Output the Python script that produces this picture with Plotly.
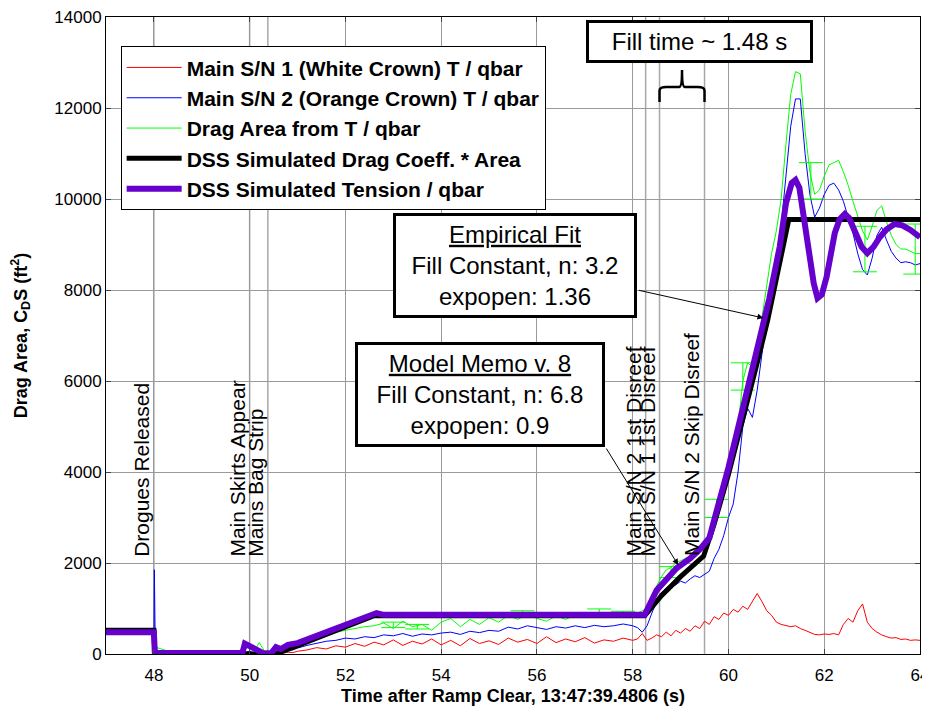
import plotly.graph_objects as go

# measured time base (s)
t_meas = [48.0, 48.01, 48.03, 48.5, 49.0, 49.5, 49.8, 49.9, 50.0, 50.1, 50.2, 50.3, 50.4, 50.5, 50.6, 50.7, 50.8, 50.9, 51.0,
          51.2, 51.4, 51.6, 51.8, 52.0, 52.2, 52.4, 52.6, 52.8, 53.0, 53.2, 53.4, 53.6, 53.8, 54.0, 54.2, 54.4, 54.6,
          54.8, 55.0, 55.2, 55.4, 55.6, 55.8, 56.0, 56.2, 56.4, 56.6, 56.8, 57.0, 57.2, 57.4, 57.6, 57.8, 58.0,
          58.1, 58.2, 58.3, 58.4, 58.5, 58.6, 58.7, 58.8, 58.9, 59.0, 59.1, 59.2, 59.3, 59.4, 59.5, 59.6, 59.7, 59.8,
          59.9, 60.0, 60.1, 60.2, 60.3, 60.4, 60.5, 60.6, 60.7, 60.8, 60.9, 61.0, 61.1, 61.2, 61.3, 61.4, 61.5, 61.6,
          61.7, 61.8, 61.9, 62.0, 62.1, 62.2, 62.3, 62.4, 62.5, 62.6, 62.7, 62.8, 62.9, 63.0, 63.1, 63.2, 63.3, 63.4,
          63.5, 63.6, 63.7, 63.8, 63.9, 64.0]

main1 = [0, 0, 0, 0, 0, 0, 0, 30, 20, 10, 30, 0, 0, 20, 0, 20, 40, 30, 60,
         90, 140, 110, 180, 150, 230, 170, 260, 200, 310, 190, 280, 220, 330, 200, 300, 180, 340,
         230, 290, 210, 350, 260, 320, 230, 380, 250, 330, 270, 360, 240, 310, 280, 350, 300,
         330, 450, 300, 350, 420, 380, 480, 400, 520, 460, 560, 500, 620, 560, 720, 650, 820, 760,
         900, 850, 980, 920, 1050, 980, 1150, 1330, 1150, 950, 850, 700, 650, 620, 600, 620, 560, 520,
         480, 430, 420, 440, 430, 450, 420, 650, 780, 700, 950, 1100, 700, 560, 480, 420, 380, 350,
         360, 320, 330, 300, 310, 300]

main2 = [0, 1850, 40, 0, 0, 0, 0, 40, 60, 20, 80, 30, 10, 40, 20, 60, 100, 90, 130,
         190, 240, 280, 300, 350, 330, 380, 360, 420, 400, 450, 390, 440, 420, 460, 480, 430, 500,
         470, 520, 500, 590, 550, 620, 580, 540, 600, 570, 620, 580, 630, 600, 620, 660, 620,
         580, 480, 620, 900, 1150, 1350, 1450, 1480, 1520, 1600, 1560, 1650, 1720, 1680, 1750, 1820, 2100, 2300,
         2600, 3000, 3300, 4000, 5000, 5400, 5200, 5800, 6600, 7400, 8000, 8600, 9400, 10500, 11600, 12200, 12200, 11000,
         10100, 9600, 9800, 10100, 10300, 10350, 10200, 9950, 9600, 9250, 8800, 8450, 8330, 8700, 9200, 9380, 9100, 8850,
         8700, 8600, 8620, 8600, 8550, 8580]

drag_area = [0, 400, 150, 0, 0, 0, 0, 100, 180, 60, 250, 80, 50, 80, 60, 130, 180, 150, 230,
             300, 380, 400, 480, 520, 560, 600, 620, 680, 560, 720, 600, 650, 520, 700, 780, 600, 760,
             650, 800, 700, 850, 760, 880, 780, 720, 840, 760, 860, 800, 880, 820, 860, 920, 880,
             900, 950, 1000, 1250, 1500, 1700, 1850, 1900, 2000, 2050, 2100, 2150, 2300, 2250, 2450, 2500, 2900, 3100,
             3500, 3900, 4300, 5000, 6000, 6400, 6300, 6700, 7400, 8200, 8800, 9300, 10000, 11200, 12300, 12800, 12750, 11500,
             10600, 10100, 10200, 10500, 10750, 10800, 10850, 10600, 10300, 9950, 9600, 9300, 9100, 9400, 9750, 9850, 9500, 9200,
             9000, 8900, 8900, 8850, 8800, 8800]

# green error-bar marks
eb_t = [53.0, 53.5, 55.7, 57.3, 57.8, 58.8, 59.75, 60.3, 61.72, 62.85, 63.9]
eb_y = [640, 600, 900, 950, 880, 1800, 3200, 6100, 10400, 8900, 8900]
eb_err = [60, 50, 50, 40, 60, 120, 200, 300, 400, 500, 550]

# DSS simulation
sim_cd_t = [47.0, 48.0, 48.02, 49.85, 49.9, 50.55, 52.6, 58.25, 58.6, 59.0, 59.48, 59.7, 60.0, 60.3, 60.6,
            60.82, 61.0, 61.26, 64.0]
sim_cd = [520, 520, 30, 30, 0, 0, 840, 840, 1280, 1700, 2150, 2850, 3950, 5150, 6400,
          7340, 8200, 9550, 9550]

sim_ten_t = [47.0, 48.0, 48.02, 49.85, 49.9, 50.0, 50.1, 50.2, 50.3, 50.45, 50.55, 50.65, 50.8, 51.0, 52.55,
             52.65, 52.8, 58.25, 58.5, 58.92, 59.2, 59.4, 59.6, 59.82, 60.0, 60.3, 60.6, 60.85, 61.07, 61.2,
             61.32, 61.4, 61.48, 61.55, 61.62, 61.7, 61.78, 61.86, 61.95, 62.05, 62.14, 62.22, 62.32, 62.43,
             62.52, 62.6, 62.7, 62.78, 62.9, 63.03, 63.16, 63.3, 63.47, 63.63, 63.8, 63.9, 64.0]
sim_ten = [480, 480, 20, 30, 230, 180, 120, 60, 10, 20, 150, 110, 200, 240, 860,
           900, 860, 860, 1400, 1890, 2100, 2300, 2550, 3380, 4100, 5400, 6700, 7800, 8950, 9900,
           10350, 10420, 10250, 9760, 9200, 8660, 8150, 7820, 7900, 8290, 8800, 9250, 9550, 9670,
           9580, 9380, 9150, 8950, 8810, 8950, 9160, 9330, 9450, 9420, 9320, 9240, 9160]

event_t = [48.0, 50.0, 50.38, 58.27, 58.56, 59.5]
event_lbl = ["Drogues Released", "Main Skirts Appear", "Mains Bag Strip",
             "Main S/N 2 1st Disreef", "Main S/N 1 1st Disreef", "Main S/N 2 Skip Disreef"]

fig = go.Figure()
fig.add_trace(go.Scatter(x=t_meas, y=main1, mode="lines", line=dict(color="#ff0000", width=1),
                         name="Main S/N 1 (White Crown) T / qbar"))
fig.add_trace(go.Scatter(x=t_meas, y=main2, mode="lines", line=dict(color="#0000ff", width=1),
                         name="Main S/N 2 (Orange Crown) T / qbar"))
fig.add_trace(go.Scatter(x=t_meas, y=drag_area, mode="lines", line=dict(color="#00ff00", width=1),
                         name="Drag Area from T / qbar"))
fig.add_trace(go.Scatter(x=eb_t, y=eb_y, mode="markers", marker=dict(size=1, color="#00ff00"),
                         error_y=dict(type="data", array=eb_err, color="#00ff00", thickness=1, width=12),
                         showlegend=False, hoverinfo="skip"))
fig.add_trace(go.Scatter(x=sim_cd_t, y=sim_cd, mode="lines", line=dict(color="black", width=5),
                         name="DSS Simulated Drag Coeff. * Area"))
fig.add_trace(go.Scatter(x=sim_ten_t, y=sim_ten, mode="lines", line=dict(color="#6600cc", width=6),
                         name="DSS Simulated Tension / qbar"))

for t, lbl in zip(event_t, event_lbl):
    fig.add_shape(type="line", x0=t, x1=t, y0=0, y1=14000, xref="x", yref="y",
                  line=dict(color="#a8a8a8", width=1.5), layer="below")
    fig.add_annotation(x=t, y=2100, text=lbl, textangle=-90, showarrow=False,
                       xanchor="right", yanchor="bottom", xshift=1,
                       font=dict(family="Arial", size=21, color="black"))

# curly brace for fill time
fig.add_shape(type="path", xref="x", yref="y",
              path="M 58.56 12130 L 58.56 12380 Q 58.56 12460 58.70 12460 L 58.97 12460 Q 59.03 12460 59.03 12835 "
                   "Q 59.03 12460 59.09 12460 L 59.36 12460 Q 59.5 12460 59.5 12380 L 59.5 12130",
              line=dict(color="black", width=2.5))

box_font = dict(family="Arial", size=24, color="black")
fig.add_annotation(x=59.4, y=13470, text="Fill time ~ 1.48 s", showarrow=False, font=box_font,
                   bgcolor="white", bordercolor="black", borderwidth=3, borderpad=1, width=219, height=35)
fig.add_annotation(x=55.55, y=8540, text="<u>Empirical Fit</u><br>Fill Constant, n: 3.2<br>expopen: 1.36",
                   showarrow=False, font=box_font, bgcolor="white", bordercolor="black", borderwidth=3,
                   borderpad=1, width=236, height=97)
fig.add_annotation(x=54.82, y=5700, text="<u>Model Memo v. 8</u><br>Fill Constant, n: 6.8<br>expopen: 0.9",
                   showarrow=False, font=box_font, bgcolor="white", bordercolor="black", borderwidth=3,
                   borderpad=1, width=242, height=97)
fig.add_annotation(x=60.73, y=7385, ax=58.10, ay=8000, axref="x", ayref="y", text="", showarrow=True,
                   arrowhead=2, arrowsize=1.2, arrowwidth=1, arrowcolor="black")
fig.add_annotation(x=58.95, y=1956, ax=57.43, ay=4549, axref="x", ayref="y", text="", showarrow=True,
                   arrowhead=2, arrowsize=1.2, arrowwidth=1, arrowcolor="black")

# page body has an 8px margin, so the figure is offset by 8px in the window
fig.update_layout(
    width=930, height=699,
    margin=dict(l=98, r=18, t=9, b=53),
    plot_bgcolor="white", paper_bgcolor="white",
    font=dict(family="Arial", size=17, color="black"),
    showlegend=True,
    legend=dict(x=0.018, y=0.954, xanchor="left", yanchor="top", bgcolor="white",
                bordercolor="black", borderwidth=1, itemwidth=55,
                font=dict(size=21, weight="bold")),
    xaxis=dict(range=[47, 64], dtick=2, showgrid=True, gridcolor="#9a9a9a", gridwidth=1, automargin=False,
               ticklabeloverflow="allow", ticklabelstandoff=6,
               showline=True, linecolor="black", linewidth=1, mirror="ticks", ticks="inside", ticklen=5,
               zeroline=False,
               title=dict(text="<b>Time after Ramp Clear, 13:47:39.4806 (s)</b>", font=dict(size=18), standoff=4)),
    yaxis=dict(range=[0, 14000], dtick=2000, tickformat="d", showgrid=True, gridcolor="#9a9a9a", gridwidth=1,
               automargin=False, ticklabeloverflow="allow",
               showline=True, linecolor="black", linewidth=1, mirror="ticks", ticks="inside", ticklen=5,
               zeroline=False,
               title=dict(text="<b>Drag Area, C<sub>D</sub>S (ft<sup>2</sup>)</b>", font=dict(size=18), standoff=22)),
)

fig.write_html("out.html")
